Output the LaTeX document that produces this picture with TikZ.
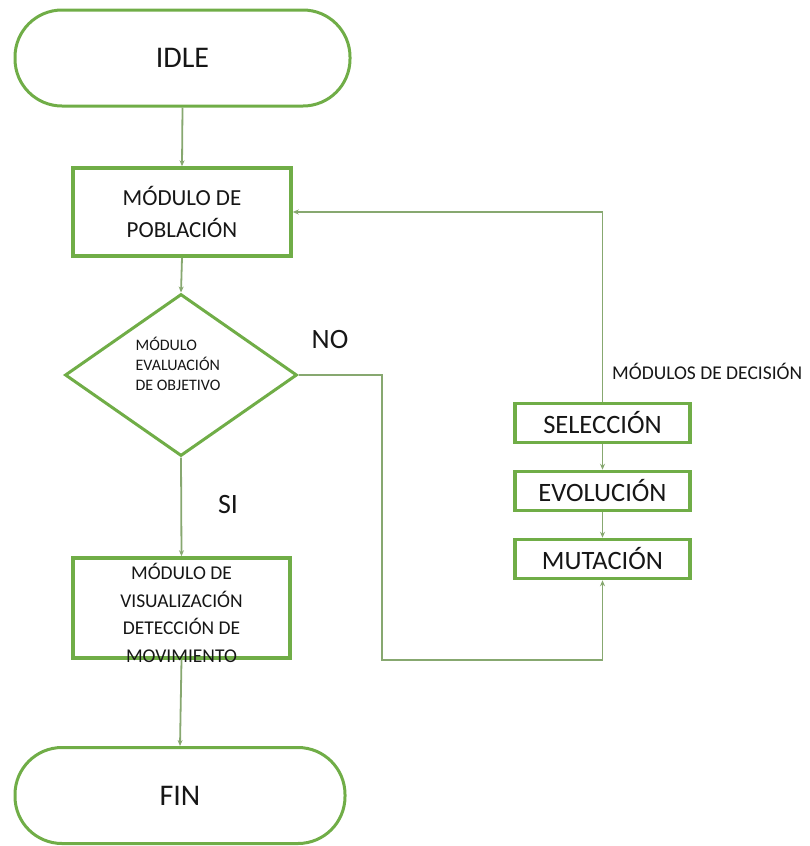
\documentclass[tikz,border=0pt]{standalone}
\usepackage{fontspec}
\setmainfont{Carlito}
\usetikzlibrary{arrows.meta,shapes.geometric}
\definecolor{boxgreen}{RGB}{112,173,71}
\definecolor{linkgreen}{RGB}{135,168,112}
\definecolor{txt}{RGB}{22,22,22}
\begin{document}
\begin{tikzpicture}[x=1pt,y=-1pt,
  every node/.style={text=txt},
  terminal/.style={draw=boxgreen, line width=3pt, rounded corners=47pt,
    minimum width=#1, minimum height=96pt, inner sep=0pt,
    font=\fontsize{30}{34}\selectfont},
  procbox/.style={draw=boxgreen, line width=3.5pt, inner sep=0pt, align=center},
  smallbox/.style={procbox, minimum width=175pt, minimum height=39pt,
    font=\fontsize{26.5}{30}\selectfont},
  decision/.style={draw=boxgreen, line width=3pt, diamond, inner sep=0pt,
    minimum width=232pt, minimum height=162pt},
  branch/.style={font=\fontsize{28}{32}\selectfont},
  link/.style={draw=linkgreen, line width=1.8pt,
    -{Stealth[length=6pt,width=5pt]}}]
\useasboundingbox (0,0) rectangle (809,846);

% main column
\node[terminal=335pt] (idle) at (182.5,58) {IDLE};
\node[procbox, minimum width=218pt, minimum height=88pt,
      font=\fontsize{23}{32}\selectfont] (pob) at (182,212)
      {MÓDULO DE\\POBLACIÓN};
\node[decision] (dec) at (181,375) {};
\node[align=left, inner sep=0pt, font=\fontsize{16}{20}\selectfont] (dectext)
      at (178,364) {MÓDULO\\EVALUACIÓN\\DE OBJETIVO};
\node[procbox, minimum width=217pt, minimum height=100pt] (vis) at (181.5,608) {};
\node[align=center, inner sep=0pt, font=\fontsize{19.5}{27.7}\selectfont] (vistext)
      at (181.5,613) {MÓDULO DE\\VISUALIZACIÓN\\DETECCIÓN DE\\MOVIMIENTO};
\node[terminal=330pt] (fin) at (180,795.5) {FIN};

% decision modules
\node[smallbox] (sel) at (602.5,423) {SELECCIÓN};
\node[smallbox] (evo) at (602.5,491) {EVOLUCIÓN};
\node[smallbox] (mut) at (602.5,559) {MUTACIÓN};
\node[anchor=west, inner sep=0pt, font=\fontsize{19.5}{22}\selectfont] (modlabel)
      at (612,371) {MÓDULOS DE DECISIÓN};

% branch labels
\node[branch] (nolabel) at (330,340) {NO};
\node[branch] (silabel) at (228,505) {SI};

% connectors
\coordinate (nobend) at (382,660);
\draw[link] (idle.south) -- (pob.north);
\draw[link] (pob.south) -- (dec.north);
\draw[link] (dec.south) -- (vis.north);
\draw[link] (vis.south) -- (fin.north);
\draw[link] (dec.east) -| (nobend) -| (mut.south);
\draw[link] (sel.south) -- (evo.north);
\draw[link] (evo.south) -- (mut.north);
\draw[link] (sel.north) |- (pob.east);
\end{tikzpicture}
\end{document}
